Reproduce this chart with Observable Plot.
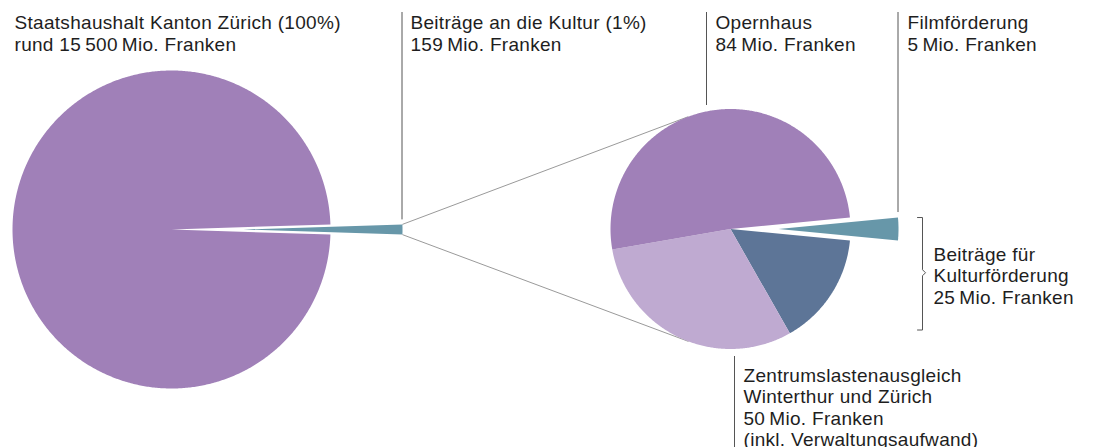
<!DOCTYPE html>
<html>
<head>
<meta charset="utf-8">
<script src="https://cdn.jsdelivr.net/npm/d3@7"></script>
<script src="https://cdn.jsdelivr.net/npm/@observablehq/plot@0.6"></script>
<style>
  html, body { margin: 0; padding: 0; background: #fff; }
  #chart svg { display: block; }
</style>
</head>
<body>
<div id="chart"></div>
<script>
// ---------- data (Mio. Franken) ----------
const budgetNames  = ["Übriger Staatshaushalt", "Beiträge an die Kultur"];
const budgetValues = [15341, 159];            // total 15 500
const budgetTotal  = 15500;

const cultureNames  = ["Filmförderung", "Beiträge für Kulturförderung", "Zentrumslastenausgleich", "Opernhaus"];
const cultureValues = [5, 25, 50, 84];

const budgetColors  = ["#a080b8", "#6797a9"];
const cultureColors = ["#6797a9", "#5d7597", "#bfaad1", "#a080b8"];

const labelTitles = [
  ["Staatshaushalt Kanton Zürich (100%)"],
  ["Beiträge an die Kultur (1%)"],
  ["Opernhaus"],
  ["Filmförderung"],
  ["Beiträge für", "Kulturförderung"],
  ["Zentrumslastenausgleich", "Winterthur und Zürich"]
];
const labelAmounts = [budgetTotal, budgetValues[1], cultureValues[3], cultureValues[0], cultureValues[1], cultureValues[2]];
const labelPrefix  = ["rund ", "", "", "", "", ""];
const labelSuffix  = [[], [], [], [], [], ["(inkl. Verwaltungsaufwand)"]];

// ---------- layout ----------
const W = 1093, H = 447;
const FS = 19, LH = 21.6;
const leftPie  = {cx: 171, cy: 229,   r: 159, explode: 72, explodeIndex: 1};
const rightPie = {cx: 730, cy: 228.5, r: 120, explode: 48, explodeIndex: 0};

const fmt = v => {
  const s = String(v);
  return s.length > 4 ? s.slice(0, -3) + "\u2009" + s.slice(-3) : s;
};

function pieGeometry(values, colors, pie, prefix) {
  // culture / film slice centred at 3 o'clock
  const total = d3.sum(values);
  const first = values[pie.explodeIndex === 1 ? 0 : 0];
  const span0 = (values[0] / total) * 2 * Math.PI;
  let start;
  if (pie.explodeIndex === 1) {
    const span1 = (values[1] / total) * 2 * Math.PI;
    start = Math.PI / 2 - span1 / 2 - span0;
  } else {
    start = Math.PI / 2 - span0 / 2;
  }
  const arcs = d3.pie().sort(null).startAngle(start).endAngle(start + 2 * Math.PI)(values);
  const pts = [];
  const info = [];
  arcs.forEach((a, i) => {
    const mid = (a.startAngle + a.endAngle) / 2;
    const off = i === pie.explodeIndex ? pie.explode : 0;
    const ox = pie.cx + off * Math.sin(mid), oy = pie.cy - off * Math.cos(mid);
    const key = prefix + i;
    pts.push({key, color: colors[i], x: ox, y: oy});
    const n = Math.max(4, Math.ceil((a.endAngle - a.startAngle) / (Math.PI / 360)));
    for (let k = 0; k <= n; k++) {
      const t = a.startAngle + (a.endAngle - a.startAngle) * k / n;
      pts.push({key, color: colors[i], x: ox + pie.r * Math.sin(t), y: oy - pie.r * Math.cos(t)});
    }
    info.push({
      ox, oy,
      p0: [ox + pie.r * Math.sin(a.startAngle), oy - pie.r * Math.cos(a.startAngle)],
      p1: [ox + pie.r * Math.sin(a.endAngle),   oy - pie.r * Math.cos(a.endAngle)],
      tip: ox + pie.r * Math.sin(mid),
      startAngle: a.startAngle, endAngle: a.endAngle
    });
  });
  return {pts, info};
}

const L = pieGeometry(budgetValues, budgetColors, leftPie, "L");
const R = pieGeometry(cultureValues, cultureColors, rightPie, "R");

function tangent(px, py, c, side) {
  const dx = px - c.cx, dy = py - c.cy;
  const d = Math.hypot(dx, dy);
  const a = Math.atan2(dy, dx) + side * Math.acos(c.r / d);
  return [c.cx + c.r * Math.cos(a), c.cy + c.r * Math.sin(a)];
}
const cult = L.info[1];
const upperT = tangent(cult.p0[0], cult.p0[1], rightPie, 1);
const lowerT = tangent(cult.p1[0], cult.p1[1], rightPie, -1);
const connectors = [
  {x1: cult.p0[0], y1: cult.p0[1], x2: upperT[0], y2: upperT[1]},
  {x1: cult.p1[0], y1: cult.p1[1], x2: lowerT[0], y2: lowerT[1]}
];

const film = R.info[0];
const leaders = [
  {x: cult.tip - 0.5, y1: 12, y2: cult.p0[1] - 4.5},
  {x: 706, y1: 12, y2: 105},
  {x: film.tip - 0.5, y1: 12, y2: film.p0[1] - 5},
  {x: 734, y1: 356, y2: H}
];

const bracketX = 922;
const bTop = film.p0[1], bBot = 329.5, bMid = (bTop + bBot) / 2 - 1;
const bracket = [
  {x: bracketX - 5, y: bTop}, {x: bracketX, y: bTop},
  {x: bracketX, y: bMid - 3}, {x: bracketX + 3, y: bMid}, {x: bracketX, y: bMid + 3},
  {x: bracketX, y: bBot}, {x: bracketX - 5, y: bBot}
];

const labelPos = [
  {x: 14,  y: 26.7},
  {x: 410, y: 26.7},
  {x: 715, y: 26.7},
  {x: 907, y: 26.7},
  {x: 933, y: 258.3},
  {x: 743, y: 379.3}
];
const labels = labelTitles.map((t, i) => ({
  x: labelPos[i].x,
  y: labelPos[i].y - 0.71 * FS,
  text: [...t, labelPrefix[i] + fmt(labelAmounts[i]) + "\u2009Mio. Franken", ...labelSuffix[i]].join("\n")
}));

const chart = Plot.plot({
  width: W, height: H,
  marginTop: 0, marginRight: 0, marginBottom: 0, marginLeft: 0,
  x: {domain: [0, W], range: [0, W], axis: null},
  y: {domain: [0, H], range: [0, H], axis: null},
  color: {type: "identity"},
  style: {fontFamily: "'Liberation Sans', Arial, sans-serif", background: "#fff", letterSpacing: "0.3px"},
  marks: [
    Plot.link(connectors, {x1: "x1", y1: "y1", x2: "x2", y2: "y2", stroke: "#9a9a9a", strokeWidth: 1}),
    Plot.line(L.pts, {x: "x", y: "y", z: "key", fill: "color", stroke: "none", curve: "linear-closed"}),
    Plot.line(R.pts, {x: "x", y: "y", z: "key", fill: "color", stroke: "none", curve: "linear-closed"}),
    Plot.ruleX(leaders, {x: "x", y1: "y1", y2: "y2", stroke: "#555", strokeWidth: 1}),
    Plot.line(bracket, {x: "x", y: "y", stroke: "#555", strokeWidth: 1}),
    Plot.text(labels, {x: "x", y: "y", text: "text", textAnchor: "start", lineAnchor: "top",
      lineHeight: LH / FS, fontSize: FS, fill: "#1e1e1e"})
  ]
});
document.getElementById("chart").appendChild(chart);
</script>
</body>
</html>
